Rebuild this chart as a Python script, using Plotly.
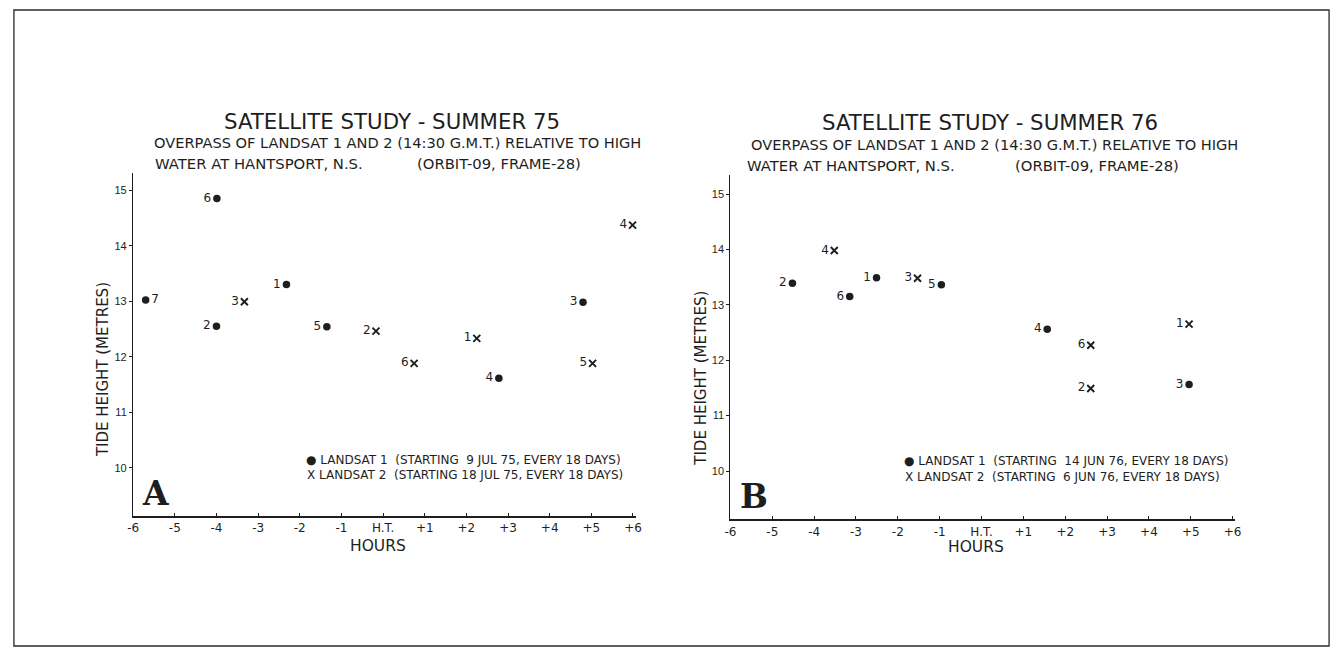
import plotly.graph_objects as go

# ---- data: hours relative to high water (H.T.) and tide height in metres ----
# Summer 1975
a_l1_num = ["1", "2", "3", "4", "5", "6", "7"]
a_l1_hours = [-2.32, -4.00, 4.80, 2.78, -1.35, -3.99, -5.70]
a_l1_tide = [13.30, 12.55, 12.98, 11.61, 12.54, 14.85, 13.02]

a_l2_num = ["1", "2", "3", "4", "5", "6"]
a_l2_hours = [2.25, -0.17, -3.33, 5.99, 5.03, 0.745]
a_l2_tide = [12.33, 12.46, 12.99, 14.37, 11.88, 11.88]

# Summer 1976
b_l1_num = ["1", "2", "3", "4", "5", "6"]
b_l1_hours = [-2.51, -4.52, 4.96, 1.57, -0.96, -3.15]
b_l1_tide = [13.49, 13.39, 11.56, 12.56, 13.36, 13.15]

b_l2_num = ["1", "2", "3", "4", "5", "6"]
b_l2_hours = [4.96, 2.61, -1.53, -3.52, 6.10, 2.61]
b_l2_tide = [12.65, 11.49, 13.48, 13.98, 11.56, 12.27]

hour_ticks = [-6, -5, -4, -3, -2, -1, 0, 1, 2, 3, 4, 5, 6]
hour_labels = ["-6", "-5", "-4", "-3", "-2", "-1", "H.T.",
               "+1", "+2", "+3", "+4", "+5", "+6"]
tide_ticks = [10, 11, 12, 13, 14, 15]

W, H = 1343, 652
INK = "#1e1e1e"
FONT = "DejaVu Sans"
NARROW = "Liberation Sans"


def px(x):
    return x / W


def py(y):
    return 1 - y / H


fig = go.Figure()


def add_points(xs, ys, nums, symbol, xaxis, yaxis, positions=None):
    if positions is None:
        positions = ["middle left"] * len(xs)
    if symbol == "circle":
        marker = dict(symbol="circle", size=7.5, color=INK, line=dict(width=0))
    else:
        marker = dict(symbol="x-thin", size=7, color=INK,
                      line=dict(width=1.9, color=INK))
    fig.add_trace(go.Scatter(
        x=xs, y=ys, text=nums, mode="markers+text",
        textposition=positions, marker=marker,
        textfont=dict(family=FONT, size=12, color=INK),
        cliponaxis=False, showlegend=False, hoverinfo="skip",
        xaxis=xaxis, yaxis=yaxis,
    ))


pos_a1 = ["middle left"] * 6 + ["middle right"]
add_points(a_l1_hours, a_l1_tide, a_l1_num, "circle", "x", "y", pos_a1)
add_points(a_l2_hours, a_l2_tide, a_l2_num, "x", "x", "y")
add_points(b_l1_hours, b_l1_tide, b_l1_num, "circle", "x2", "y2")
add_points(b_l2_hours, b_l2_tide, b_l2_num, "x", "x2", "y2")

xaxis_common = dict(
    tickmode="array", tickvals=hour_ticks, ticktext=hour_labels,
    ticks="inside", ticklen=3, tickwidth=1.2, tickcolor=INK,
    showline=True, linecolor=INK, linewidth=1.6,
    showgrid=False, zeroline=False, mirror=False,
    tickfont=dict(family=FONT, size=12, color=INK),
    fixedrange=True,
)
yaxis_common = dict(
    tickmode="array", tickvals=tide_ticks,
    ticks="outside", ticklen=3, tickwidth=1.2, tickcolor=INK,
    showline=True, linecolor=INK, linewidth=1.4,
    showgrid=False, zeroline=False, mirror=False,
    tickfont=dict(family=NARROW, size=11, color=INK),
    fixedrange=True,
)

fig.update_layout(
    width=W, height=H,
    margin=dict(l=0, r=0, t=0, b=0),
    paper_bgcolor="white", plot_bgcolor="white",
    xaxis=dict(xaxis_common, domain=[px(128.3), px(636.0)], range=[-6, 6.08],
               anchor="y"),
    yaxis=dict(yaxis_common, domain=[py(516), py(173)], range=[9.13, 15.31],
               anchor="x"),
    xaxis2=dict(xaxis_common, domain=[px(731.0), px(1240.2)], range=[-6, 6.06],
                anchor="y2", linewidth=2.2),
    yaxis2=dict(yaxis_common, domain=[py(519), py(175)], range=[9.134, 15.343],
                anchor="x2"),
)

annotations = []


def text(x, y, s, size, xanchor="left", angle=0, family=FONT, bold=False):
    annotations.append(dict(
        x=px(x), y=py(y), xref="paper", yref="paper", text=s,
        showarrow=False, xanchor=xanchor, yanchor="middle", textangle=angle,
        font=dict(family=family, size=size, color=INK,
                  weight="bold" if bold else "normal"),
    ))


# panel A headings
text(389, 121, "SATELLITE STUDY - SUMMER 75", 21.3, "center")
text(147, 143, "OVERPASS OF LANDSAT 1 AND 2 (14:30 G.M.T.) RELATIVE TO HIGH", 14.6)
text(148, 163, "WATER AT HANTSPORT, N.S.", 14.8)
text(413, 163, "(ORBIT-09, FRAME-28)", 14.8)
# panel B headings
text(993, 122, "SATELLITE STUDY - SUMMER 76", 21.3, "center")
text(750, 145, "OVERPASS OF LANDSAT 1 AND 2 (14:30 G.M.T.) RELATIVE TO HIGH", 14.6)
text(746, 165, "WATER AT HANTSPORT, N.S.", 14.8)
text(1016, 165, "(ORBIT-09, FRAME-28)", 14.8)

# axis titles
text(98, 370, "TIDE HEIGHT (METRES)", 15, "center", angle=-90)
text(701, 378, "TIDE HEIGHT (METRES)", 15, "center", angle=-90)
text(375, 546, "HOURS", 15.5, "center")
text(979, 547, "HOURS", 15.5, "center")

# keys
text(301, 459.5, "\u25cf LANDSAT 1\u00a0\u00a0(STARTING\u00a0\u00a09 JUL 75, EVERY 18 DAYS)", 12)
text(302, 474.5, "X LANDSAT 2\u00a0\u00a0(STARTING 18 JUL 75, EVERY 18 DAYS)", 12)
text(904, 461, "\u25cf LANDSAT 1\u00a0\u00a0(STARTING\u00a0\u00a014 JUN 76, EVERY 18 DAYS)", 12)
text(905, 477, "X LANDSAT 2\u00a0\u00a0(STARTING\u00a0\u00a06 JUN 76, EVERY 18 DAYS)", 12)

# panel letters
text(150.5, 494, "A", 33, "center", family="DejaVu Serif", bold=True)
text(754.5, 496, "B", 33, "center", family="DejaVu Serif", bold=True)

fig.update_layout(annotations=annotations)

# outer frame of the figure
fig.add_shape(type="rect", xref="paper", yref="paper",
              x0=px(8), x1=px(1335), y0=py(646), y1=py(10),
              line=dict(color="#2a2a2a", width=1.3))

fig.write_html("out.html")
